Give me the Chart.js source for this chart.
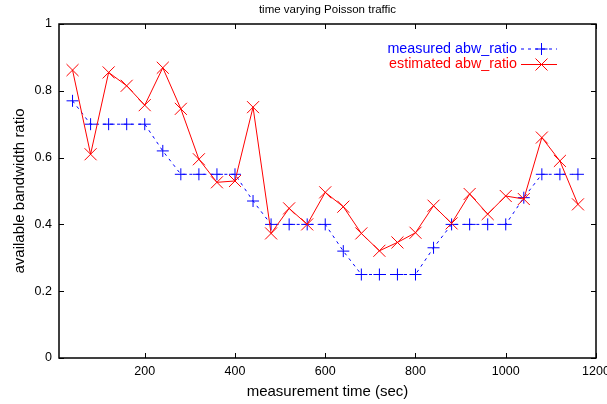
<!DOCTYPE html>
<html>
<head>
<meta charset="utf-8">
<script src="https://cdn.jsdelivr.net/npm/chart.js@4.4.0/dist/chart.umd.min.js"></script>
<style>
html,body{margin:0;padding:0;background:#fff;}
#wrap{width:607px;height:404px;}
</style>
</head>
<body>
<div id="wrap"><canvas id="abw"></canvas></div>
<script>
var times = [40,80,120,160,200,240,280,320,360,400,440,480,520,560,600,640,680,720,760,800,840,880,920,960,1000,1040,1080,1120,1160];
var measured = [0.77,0.70,0.70,0.70,0.70,0.62,0.55,0.55,0.55,0.55,0.47,0.40,0.40,0.40,0.40,0.32,0.25,0.25,0.25,0.25,0.33,0.40,0.40,0.40,0.40,0.48,0.55,0.55,0.55];
var estimated = [0.862,0.61,0.855,0.815,0.757,0.869,0.746,0.595,0.526,0.53,0.751,0.373,0.448,0.40,0.496,0.453,0.373,0.321,0.346,0.375,0.456,0.403,0.491,0.431,0.485,0.476,0.66,0.59,0.46];
var xTicks = [200,400,600,800,1000,1200];
var yTicks = [0,0.2,0.4,0.6,0.8,1];

function pts(ys) {
  return times.map(function(t, i) { return {x: t, y: ys[i]}; });
}

// gnuplot style box with inward ticks on all four sides
var frame = {
  id: 'frame',
  afterDraw: function(chart) {
    var ctx = chart.ctx, a = chart.chartArea;
    var sx = chart.scales.x, sy = chart.scales.y;
    ctx.save();
    ctx.strokeStyle = '#000';
    ctx.lineWidth = 1.5;
    ctx.strokeRect(a.left, a.top, a.right - a.left, a.bottom - a.top);
    ctx.lineWidth = 1;
    ctx.beginPath();
    xTicks.forEach(function(v) {
      var px = Math.round(sx.getPixelForValue(v)) + 0.5;
      ctx.moveTo(px, a.bottom); ctx.lineTo(px, a.bottom - 5);
      ctx.moveTo(px, a.top); ctx.lineTo(px, a.top + 5);
    });
    yTicks.forEach(function(v) {
      var py = Math.round(sy.getPixelForValue(v)) + 0.5;
      ctx.moveTo(a.left, py); ctx.lineTo(a.left + 5, py);
      ctx.moveTo(a.right, py); ctx.lineTo(a.right - 5, py);
    });
    ctx.stroke();

    // key, top right inside the box
    ctx.font = '14.3px "Liberation Sans", Arial, sans-serif';
    ctx.textAlign = 'right';
    ctx.textBaseline = 'middle';
    var rows = [49, 64.5];
    chart.data.datasets.forEach(function(ds, i) {
      var y = rows[i];
      ctx.fillStyle = ds.borderColor;
      ctx.fillText(ds.label, 517, y);
      ctx.strokeStyle = ds.borderColor;
      ctx.lineWidth = 1;
      ctx.setLineDash(ds.borderDash || []);
      ctx.beginPath();
      ctx.moveTo(521, y); ctx.lineTo(557, y);
      ctx.stroke();
      ctx.setLineDash([]);
      ctx.beginPath();
      if (ds.pointStyle === 'cross') {
        ctx.moveTo(535.5, y); ctx.lineTo(547.5, y);
        ctx.moveTo(541.5, y - 6); ctx.lineTo(541.5, y + 6);
      } else {
        ctx.moveTo(535.5, y - 6); ctx.lineTo(547.5, y + 6);
        ctx.moveTo(535.5, y + 6); ctx.lineTo(547.5, y - 6);
      }
      ctx.stroke();
    });
    ctx.restore();
  }
};

var tickFont = {family: '"Liberation Sans", Arial, sans-serif', size: 12.5};
var titleFont = {family: '"Liberation Sans", Arial, sans-serif', size: 15};

new Chart(document.getElementById('abw').getContext('2d'), {
  type: 'line',
  data: {
    datasets: [{
      label: 'measured abw_ratio',
      data: pts(measured),
      borderColor: '#0000ff',
      backgroundColor: '#0000ff',
      borderWidth: 1,
      borderDash: [3, 4],
      pointStyle: 'cross',
      pointRadius: 6,
      pointBorderWidth: 1,
      tension: 0,
      fill: false,
      order: 2
    }, {
      label: 'estimated abw_ratio',
      data: pts(estimated),
      borderColor: '#ff0000',
      backgroundColor: '#ff0000',
      borderWidth: 1,
      pointStyle: 'crossRot',
      pointRadius: 8.5,
      pointBorderWidth: 1,
      tension: 0,
      fill: false,
      order: 1
    }]
  },
  options: {
    responsive: true,
    maintainAspectRatio: false,
    animation: false,
    layout: {padding: {left: 0, right: 11, top: 0, bottom: 0}},
    plugins: {
      legend: {display: false},
      tooltip: {enabled: false},
      title: {
        display: true,
        text: 'time varying Poisson traffic',
        fullSize: false,
        color: '#000',
        font: {family: '"Liberation Sans", Arial, sans-serif', size: 11.5, weight: 'normal'},
        padding: {top: 3.2, bottom: 7.0}
      }
    },
    scales: {
      x: {
        type: 'linear',
        min: 10,
        max: 1200,
        grid: {display: false, drawTicks: false},
        border: {display: false},
        ticks: {color: '#000', font: tickFont, padding: 6, maxRotation: 0, callback: function(v) { return String(v); }},
        afterBuildTicks: function(s) { s.ticks = xTicks.map(function(v) { return {value: v}; }); },
        afterFit: function(s) { s.height = 46; s.paddingLeft = 0; s.paddingRight = 0; },
        title: {display: true, text: 'measurement time (sec)', color: '#000', font: titleFont, padding: {top: 0, bottom: 3}}
      },
      y: {
        min: 0,
        max: 1,
        grid: {display: false, drawTicks: false},
        border: {display: false},
        ticks: {color: '#000', font: tickFont, padding: 7, callback: function(v) { return String(v); }},
        afterBuildTicks: function(s) { s.ticks = yTicks.map(function(v) { return {value: v}; }); },
        afterFit: function(s) { s.width = 59; },
        title: {display: true, text: 'available bandwidth ratio', color: '#000', font: titleFont, padding: {top: 11, bottom: 0}}
      }
    }
  },
  plugins: [frame]
});
</script>
</body>
</html>
